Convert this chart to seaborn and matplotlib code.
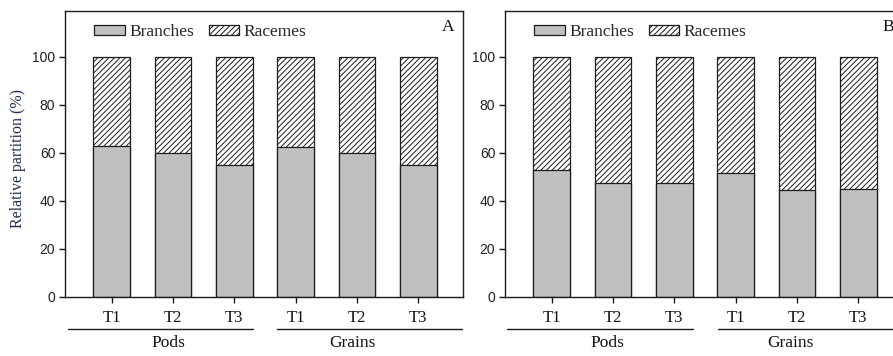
import numpy as np
import pandas as pd
import matplotlib
matplotlib.use("Agg")
import matplotlib.pyplot as plt
import matplotlib.transforms as mtransforms
from matplotlib.patches import Patch
import seaborn as sns

# Relative partition (%) between branches and racemes, per organ and treatment
treatments = ["T1", "T2", "T3", "T1", "T2", "T3"]
organs = ["Pods", "Grains"]
series_names = ["Branches", "Racemes"]
branches_a = [63.0, 60.0, 55.0, 62.5, 60.0, 55.0]
racemes_a = [37.0, 40.0, 45.0, 37.5, 40.0, 45.0]
branches_b = [53.0, 47.5, 47.5, 51.8, 44.6, 45.0]
racemes_b = [47.0, 52.5, 52.5, 48.2, 55.4, 55.0]
panel_tags = ["A", "B"]
y_ticks = [0, 20, 40, 60, 80, 100]

sns.set_style("ticks")
plt.rcParams["font.family"] = ["Liberation Serif", "DejaVu Serif"]
plt.rcParams["hatch.linewidth"] = 0.7

EDGE = "#1c1c1c"
GRAY = "#c0c0c0"
LABEL_BLUE = "#1f2f4f"
HATCH = "//////"

fig = plt.figure(figsize=(8.93, 3.56), dpi=100)
ax_a = fig.add_axes([65 / 893, 59 / 356, 398 / 893, 286 / 356])
ax_b = fig.add_axes([505 / 893, 59 / 356, 398 / 893, 286 / 356])

panels = [
    (ax_a, branches_a, racemes_a, panel_tags[0], [(-0.71, 2.31), (2.70, 5.72)], [0.92, 3.92]),
    (ax_b, branches_b, racemes_b, panel_tags[1], [(-0.72, 2.30), (2.72, 6.2)], [0.91, 3.89]),
]

for ax, branches, racemes, tag, group_spans, group_x in panels:
    df = pd.DataFrame({
        "pos": np.arange(len(treatments)),
        "branches": branches,
        "total": np.add(branches, racemes),
    })
    # racemes stacked on branches: draw the full column hatched, then branches over it
    sns.barplot(data=df, x="pos", y="total", color="white", saturation=1,
                edgecolor=EDGE, linewidth=0.9, hatch=HATCH, width=0.6,
                errorbar=None, ax=ax)
    sns.barplot(data=df, x="pos", y="branches", color=GRAY, saturation=1,
                edgecolor=EDGE, linewidth=0.9, width=0.6,
                errorbar=None, ax=ax)

    ax.set_xlim(-0.76, 5.73)
    ax.set_ylim(0, 119)
    ax.set_xlabel("")
    ax.set_ylabel("")
    ax.set_yticks(y_ticks)
    ax.set_yticklabels([str(t) for t in y_ticks])
    ax.set_xticks(range(len(treatments)))
    ax.set_xticklabels(treatments, fontsize=12)
    ax.tick_params(axis="y", direction="out", length=4, width=1, pad=3,
                   labelsize=10, color=EDGE, labelcolor="#222222")
    ax.tick_params(axis="x", direction="out", length=4, width=1, pad=5,
                   color=EDGE, labelcolor="#111111")
    for lbl in ax.get_yticklabels():
        lbl.set_family("Liberation Sans")
    for s in ax.spines.values():
        s.set_visible(True)
        s.set_linewidth(1.0)
        s.set_color(EDGE)

    # organ grouping rules and names below the treatment labels
    trans = mtransforms.blended_transform_factory(ax.transData, ax.transAxes)
    for (x0, x1), gx, name in zip(group_spans, group_x, organs):
        ax.plot([x0, x1], [-0.112, -0.112], transform=trans, clip_on=False,
                color=EDGE, lw=1.0)
        ax.text(gx, -0.16, name, transform=trans, ha="center", va="center",
                fontsize=12.5, color="#111111")

    ax.text(0.962, 0.944, tag, transform=ax.transAxes, ha="center",
            va="center", fontsize=12.5, color="#111111")

    handles = [
        Patch(facecolor=GRAY, edgecolor=EDGE, linewidth=0.9),
        Patch(facecolor="white", edgecolor=EDGE, linewidth=0.9, hatch=HATCH),
    ]
    ax.legend(handles, series_names, ncol=2, loc="center left",
              bbox_to_anchor=(0.074, 0.927), frameon=False, fontsize=12.5,
              handlelength=1.75, handleheight=0.55, handletextpad=0.25,
              columnspacing=0.85, borderpad=0, borderaxespad=0)

ax_a.set_ylabel("Relative partition (%)", fontsize=11.5, color=LABEL_BLUE)
ax_a.yaxis.set_label_coords(-0.098, 0.486)

fig.savefig("out.png", dpi=100)
